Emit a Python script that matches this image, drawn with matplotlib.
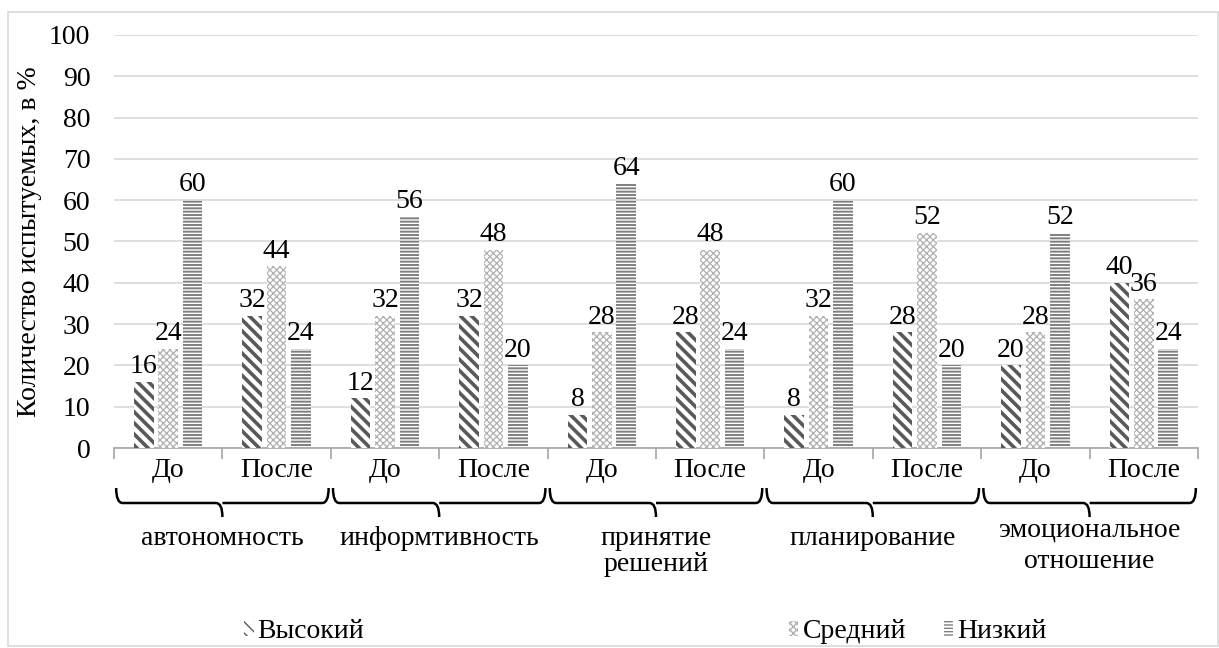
import matplotlib.pyplot as plt
import numpy as np
from matplotlib.path import Path
from matplotlib.patches import PathPatch, Rectangle, Patch
import matplotlib.transforms as mtransforms

plt.rcParams['font.family'] = ['Liberation Serif', 'DejaVu Serif']

groups = ['автономность', 'информтивность', 'принятие\nрешений', 'планирование',
          'эмоциональное\nотношение']
stages = ['До', 'После'] * 5
series = ['Высокий', 'Средний', 'Низкий']
high = [16, 32, 12, 32, 8, 28, 8, 28, 20, 40]
mid = [24, 44, 32, 48, 28, 48, 32, 52, 28, 36]
low = [60, 24, 56, 20, 64, 24, 60, 20, 52, 24]

FS = 20

fig = plt.figure(figsize=(12.19, 6.48), dpi=100)
ax = fig.add_axes([114 / 1219, 1 - 448 / 648, 1084 / 1219, 413 / 648])

x = np.arange(len(stages))
w = 0.18
step = 0.225
styles = [
    (high, '\\\\\\', '#595959', 2.6),
    (mid, 'xxxxx', '#b0b0b0', 0.9),
    (low, '-----', '#7f7f7f', 1.4),
]
handles = []
for k, (vals, hatch, col, hlw) in enumerate(styles):
    bars = ax.bar(x + (k - 1) * step, vals, w, facecolor='white', edgecolor=col,
                  hatch=hatch, linewidth=0, zorder=3)
    for b in bars:
        if hasattr(b, 'set_hatch_linewidth'):
            b.set_hatch_linewidth(hlw)
    for xi, v in zip(x + (k - 1) * step, vals):
        ax.annotate(str(v), (xi, v), xytext=(0, 2), textcoords='offset points',
                    ha='center', va='bottom', fontsize=FS, zorder=4)
    hp = Patch(facecolor='white', edgecolor=col, hatch=hatch, linewidth=0)
    if hasattr(hp, 'set_hatch_linewidth'):
        hp.set_hatch_linewidth(hlw)
    handles.append(hp)

ax.set_xlim(-0.5, len(stages) - 0.5)
ax.set_ylim(0, 100)
ax.set_yticks(range(0, 101, 10))
ax.grid(axis='y', color='#d9d9d9', linewidth=1.2, zorder=0)
ax.set_axisbelow(True)
for s in ['top', 'right', 'left']:
    ax.spines[s].set_visible(False)
ax.spines['bottom'].set_color('#a6a6a6')
ax.spines['bottom'].set_linewidth(1.2)

ax.set_xticks(x)
ax.set_xticklabels(stages)
ax.set_xticks(np.arange(-0.5, len(stages), 1), minor=True)
ax.tick_params(axis='x', which='major', length=0, pad=7, labelsize=FS)
ax.tick_params(axis='x', which='minor', length=8, color='#a6a6a6', width=1.2)
ax.tick_params(axis='y', length=0, pad=17, labelsize=FS)
ax.set_ylabel('Количество испытуемых, в %', fontsize=FS, labelpad=5)

# braces under each pair of columns
trans = mtransforms.blended_transform_factory(ax.transData, ax.transAxes)
ppx = 1 / 413
ytop = -40 * ppx
ymid = -55 * ppx
ybot = -69 * ppx
r = 0.06
for g in range(len(groups)):
    x0 = 2 * g - 0.48
    x1 = 2 * g + 1.48
    xc = 2 * g + 0.5
    verts = [(x0, ytop), (x0, ymid), (x0 + r, ymid),
             (xc - r, ymid), (xc, ymid), (xc, ybot),
             (xc, ymid), (xc + r, ymid),
             (x1 - r, ymid), (x1, ymid), (x1, ytop)]
    codes = [Path.MOVETO, Path.CURVE3, Path.CURVE3,
             Path.LINETO, Path.CURVE3, Path.CURVE3,
             Path.MOVETO, Path.LINETO,
             Path.LINETO, Path.CURVE3, Path.CURVE3]
    ax.add_patch(PathPatch(Path(verts, codes), transform=trans, facecolor='none',
                           edgecolor='black', linewidth=1.8, clip_on=False))
    if g == 4:
        ytxt, ls = -70 * ppx, 1.3
    else:
        ytxt, ls = -78 * ppx, 1.05
    ax.text(xc, ytxt, groups[g], transform=trans, ha='center', va='top',
            fontsize=FS, linespacing=ls)

# legend entries spread along the bottom
for lab, hp, xpos in zip(series, handles, [0.200, 0.647, 0.774]):
    fig.legend([hp], [lab], loc='center left', bbox_to_anchor=(xpos, 1 - 632 / 648),
               frameon=False, fontsize=FS, handlelength=0.35, handleheight=0.45,
               handletextpad=0.15, borderpad=0, borderaxespad=0)

fig.patches.append(Rectangle((8 / 1219, 2 / 648), 1210 / 1219, 634 / 648,
                             transform=fig.transFigure, fill=False,
                             edgecolor='#d9d9d9', linewidth=1.2))

plt.savefig('out.png', dpi=100)
